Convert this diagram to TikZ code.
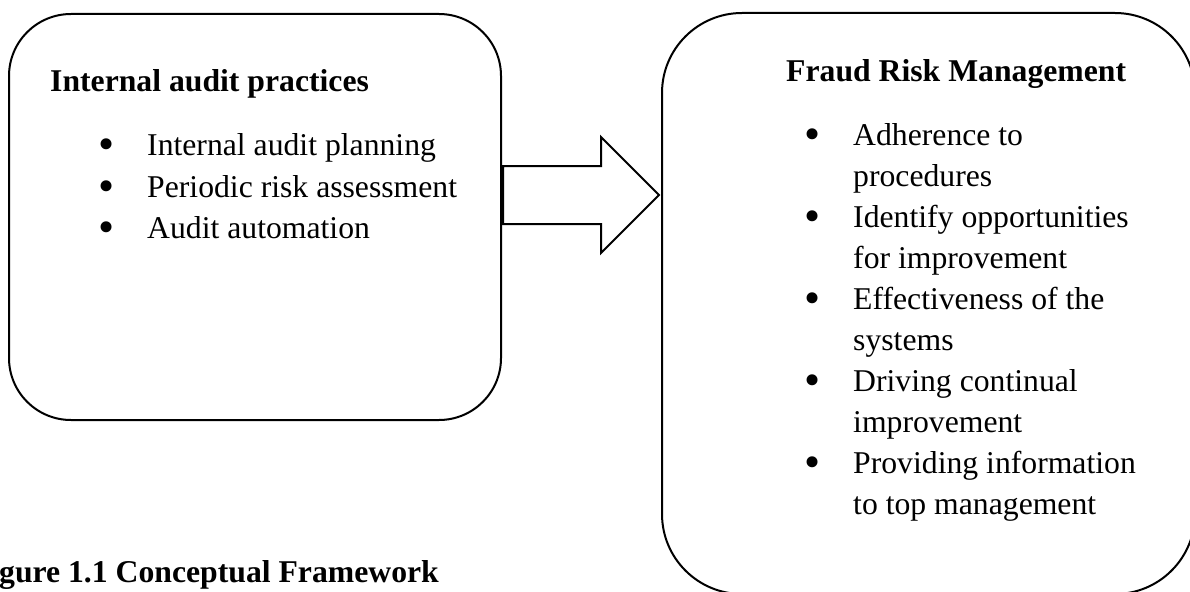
\documentclass[tikz,border=0pt]{standalone}
\usepackage{fontspec}
\setmainfont{Liberation Serif}
\usepackage{graphicx}
\usepackage{tikz}
\usetikzlibrary{shapes.arrows, positioning}

\newcommand{\bdot}{\smash{\raisebox{-4pt}{\scalebox{1.45}{\textbullet}}}}
\newcommand{\bitem}[1]{\makebox[49pt][l]{\bdot}#1}
\newcommand{\bcont}[1]{\hspace*{49pt}#1}

\begin{document}
\begin{tikzpicture}[x=1pt, y=-1pt, box/.style={rectangle, draw=black, line width=2pt, inner sep=0pt}, title/.style={anchor=base west, inner sep=0pt, font=\fontsize{31.7}{41}\selectfont\bfseries}, item/.style={anchor=base west, inner sep=0pt, font=\fontsize{31.7}{41}\selectfont}, fatarrow/.style={single arrow, draw=black, line width=2pt, fill=white, inner xsep=0pt, inner ysep=28pt, minimum height=156pt, single arrow head extend=29pt, single arrow tip angle=90}]

    \useasboundingbox (0,0) rectangle (1190,591);
    \clip (0,0) rectangle (1190,591);

    %Boxes
    \node[box, rounded corners=62pt, minimum width=492pt, minimum height=406pt](practices) at (255,217){};
    \node[box, rounded corners=80pt, minimum width=533pt, minimum height=581pt](fraud) at (928.5,303.5){};

    %Left box text
    \node[title](practices_title) at (50,92){Internal audit practices};
    \node[item](planning) at (98,155){\bitem{Internal audit planning}};
    \node[item](assessment) at (98,197){\bitem{Periodic risk assessment}};
    \node[item](automation) at (98,238){\bitem{Audit automation}};

    %Right box text
    \node[title](fraud_title) at (786,82){Fraud Risk Management};
    \node[item](adherence) at (804,145){\bitem{Adherence to}};
    \node[item](adherence2) at (804,186){\bcont{procedures}};
    \node[item](opportunities) at (804,227){\bitem{Identify opportunities}};
    \node[item](opportunities2) at (804,268){\bcont{for improvement}};
    \node[item](effectiveness) at (804,309){\bitem{Effectiveness of the}};
    \node[item](effectiveness2) at (804,350){\bcont{systems}};
    \node[item](driving) at (804,391){\bitem{Driving continual}};
    \node[item](driving2) at (804,432){\bcont{improvement}};
    \node[item](providing) at (804,473){\bitem{Providing information}};
    \node[item](providing2) at (804,514){\bcont{to top management}};

    %Caption
    \node[title](caption) at (-1,582){gure 1.1 Conceptual Framework};

    %Arrow
    \node[fatarrow, anchor=tail](link) at ([yshift=22pt]practices.east){};

\end{tikzpicture}
\end{document}
